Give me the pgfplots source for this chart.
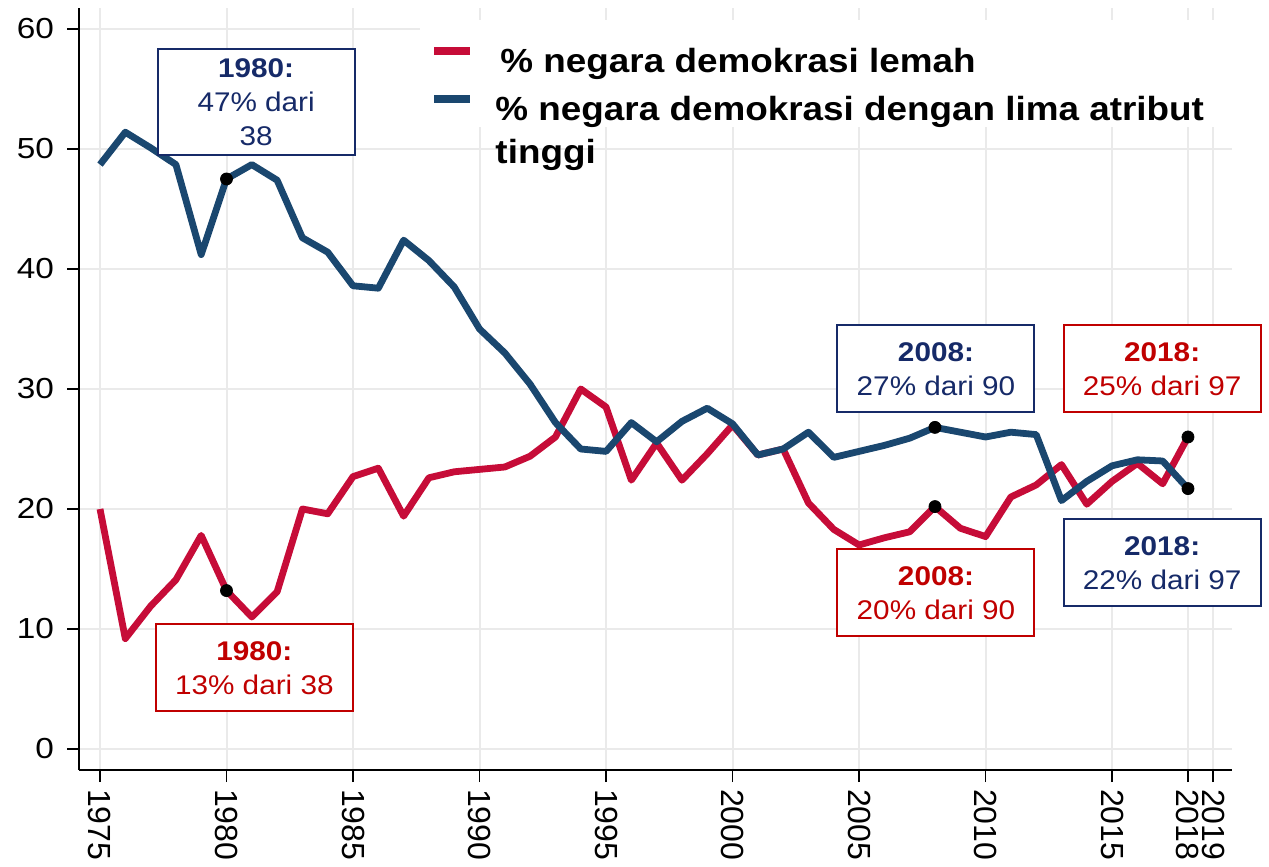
\documentclass[border=0pt]{standalone}
\usepackage{fontspec}
\setmainfont{Liberation Sans}[FakeStretch=1.1]
\newfontfamily\plainsans{Liberation Sans}
\newfontfamily\wideans{Liberation Sans}[FakeStretch=1.15]
\usepackage{pgfplots}
\pgfplotsset{compat=1.18}
\definecolor{lred}{RGB}{198,12,56}
\definecolor{lblue}{RGB}{26,71,111}
\definecolor{tred}{RGB}{192,0,0}
\definecolor{tblue}{RGB}{22,42,104}
\definecolor{gridc}{RGB}{234,234,234}
\begin{document}
\begin{tikzpicture}
\begin{axis}[name=ax, scale only axis, width=576.5pt, height=381pt,
  xmin=1974.17, xmax=2019.74, ymin=-1.75, ymax=61.75,
  clip=false,
  axis x line*=bottom, axis y line*=left,
  axis line style={line width=0.8pt, black, -},
  xtick={1975,1980,1985,1990,1995,2000,2005,2010,2015,2018,2019},
  ytick={0,10,20,30,40,50,60},
  yticklabels={{\wideans\fontsize{14.5}{16}\selectfont 0},{\wideans\fontsize{14.5}{16}\selectfont 10},{\wideans\fontsize{14.5}{16}\selectfont 20},{\wideans\fontsize{14.5}{16}\selectfont 30},{\wideans\fontsize{14.5}{16}\selectfont 40},{\wideans\fontsize{14.5}{16}\selectfont 50},{\wideans\fontsize{14.5}{16}\selectfont 60}},
  tick align=outside, major tick length=6pt,
  tick style={line width=0.8pt, black},
  grid=major, major grid style={line width=1pt, gridc},
  /pgf/number format/assume math mode=true,
  /pgf/number format/1000 sep={},
  y tick label style={font=\wideans\fontsize{14.5}{16}\selectfont, xshift=-3pt},
  x tick label style={font=\plainsans\fontsize{16}{18}\selectfont, rotate=-90, anchor=west},
  legend style={at={(rel axis cs:0.3045,0.9606)}, anchor=north west, draw=none, fill=none,
    inner sep=0pt, font=\bfseries\fontsize{16.75}{21.5}\selectfont,
    cells={anchor=base west}, row sep=3.5pt, column sep=8.5pt},
  legend image code/.code={\draw[#1, line width=4pt] (0pt,11pt)--(18pt,11pt);},
]
\fill[white] (rel axis cs:0.2957,0.984) rectangle (rel axis cs:1,0.8438);
\addplot[lred, line width=3.4pt, line join=round] coordinates {
(1975,20.0) (1976,9.2) (1977,11.9) (1978,14.1) (1979,17.8) (1980,13.2)
(1981,11.0) (1982,13.1) (1983,20.0) (1984,19.6) (1985,22.7) (1986,23.4)
(1987,19.4) (1988,22.6) (1989,23.1) (1990,23.3) (1991,23.5) (1992,24.4)
(1993,26.0) (1994,30.0) (1995,28.5) (1996,22.4) (1997,25.5) (1998,22.4)
(1999,24.6) (2000,27.0) (2001,24.5) (2002,25.0) (2003,20.5) (2004,18.3)
(2005,17.0) (2006,17.6) (2007,18.1) (2008,20.2) (2009,18.4) (2010,17.7)
(2011,21.0) (2012,22.0) (2013,23.7) (2014,20.4) (2015,22.3) (2016,23.8)
(2017,22.1) (2018,26.0)};
\addlegendentry{\hspace{2.5pt}\strut\% negara demokrasi lemah}
\addplot[lblue, line width=3.4pt, line join=round] coordinates {
(1975,48.7) (1976,51.4) (1977,50.1) (1978,48.7) (1979,41.2) (1980,47.5)
(1981,48.7) (1982,47.4) (1983,42.6) (1984,41.4) (1985,38.6) (1986,38.4)
(1987,42.4) (1988,40.7) (1989,38.5) (1990,35.0) (1991,33.0) (1992,30.4)
(1993,27.2) (1994,25.0) (1995,24.8) (1996,27.2) (1997,25.6) (1998,27.3)
(1999,28.4) (2000,27.1) (2001,24.5) (2002,25.0) (2003,26.4) (2004,24.3)
(2005,24.8) (2006,25.3) (2007,25.9) (2008,26.8) (2009,26.4) (2010,26.0)
(2011,26.4) (2012,26.2) (2013,20.7) (2014,22.3) (2015,23.6) (2016,24.1)
(2017,24.0) (2018,21.7)};
\addlegendentry{\begin{tabular}[t]{@{}l@{}}\% negara demokrasi dengan lima atribut\\tinggi\end{tabular}}
\addplot[only marks, mark=*, mark size=3pt, black, forget plot] coordinates {
(1980,47.5) (1980,13.2) (2008,26.8) (2008,20.2) (2018,26.0) (2018,21.7)};
\tikzset{ann/.style={draw=#1, line width=1pt, fill=white, text=#1, align=center,
  minimum width=98.5pt, minimum height=43.5pt, inner sep=0pt,
  font=\fontsize{13.5}{17}\selectfont}}
\node[ann=tblue, minimum height=53pt] at (axis cs:1981.17,53.9) {\textbf{1980:}\\47\% dari\\38};
\node[ann=tred] at (axis cs:1981.1,6.75) {\textbf{1980:}\\13\% dari 38};
\node[ann=tblue] at (axis cs:2008.04,31.67) {\textbf{2008:}\\27\% dari 90};
\node[ann=tred] at (axis cs:2008.04,13.0) {\textbf{2008:}\\20\% dari 90};
\node[ann=tred] at (axis cs:2016.98,31.67) {\textbf{2018:}\\25\% dari 97};
\node[ann=tblue] at (axis cs:2016.98,15.5) {\textbf{2018:}\\22\% dari 97};
\end{axis}
\pgfresetboundingbox
\path[use as bounding box] ([xshift=-39.5pt,yshift=-48.5pt]ax.south west) rectangle ([xshift=18.5pt,yshift=4pt]ax.north east);
\end{tikzpicture}
\end{document}
